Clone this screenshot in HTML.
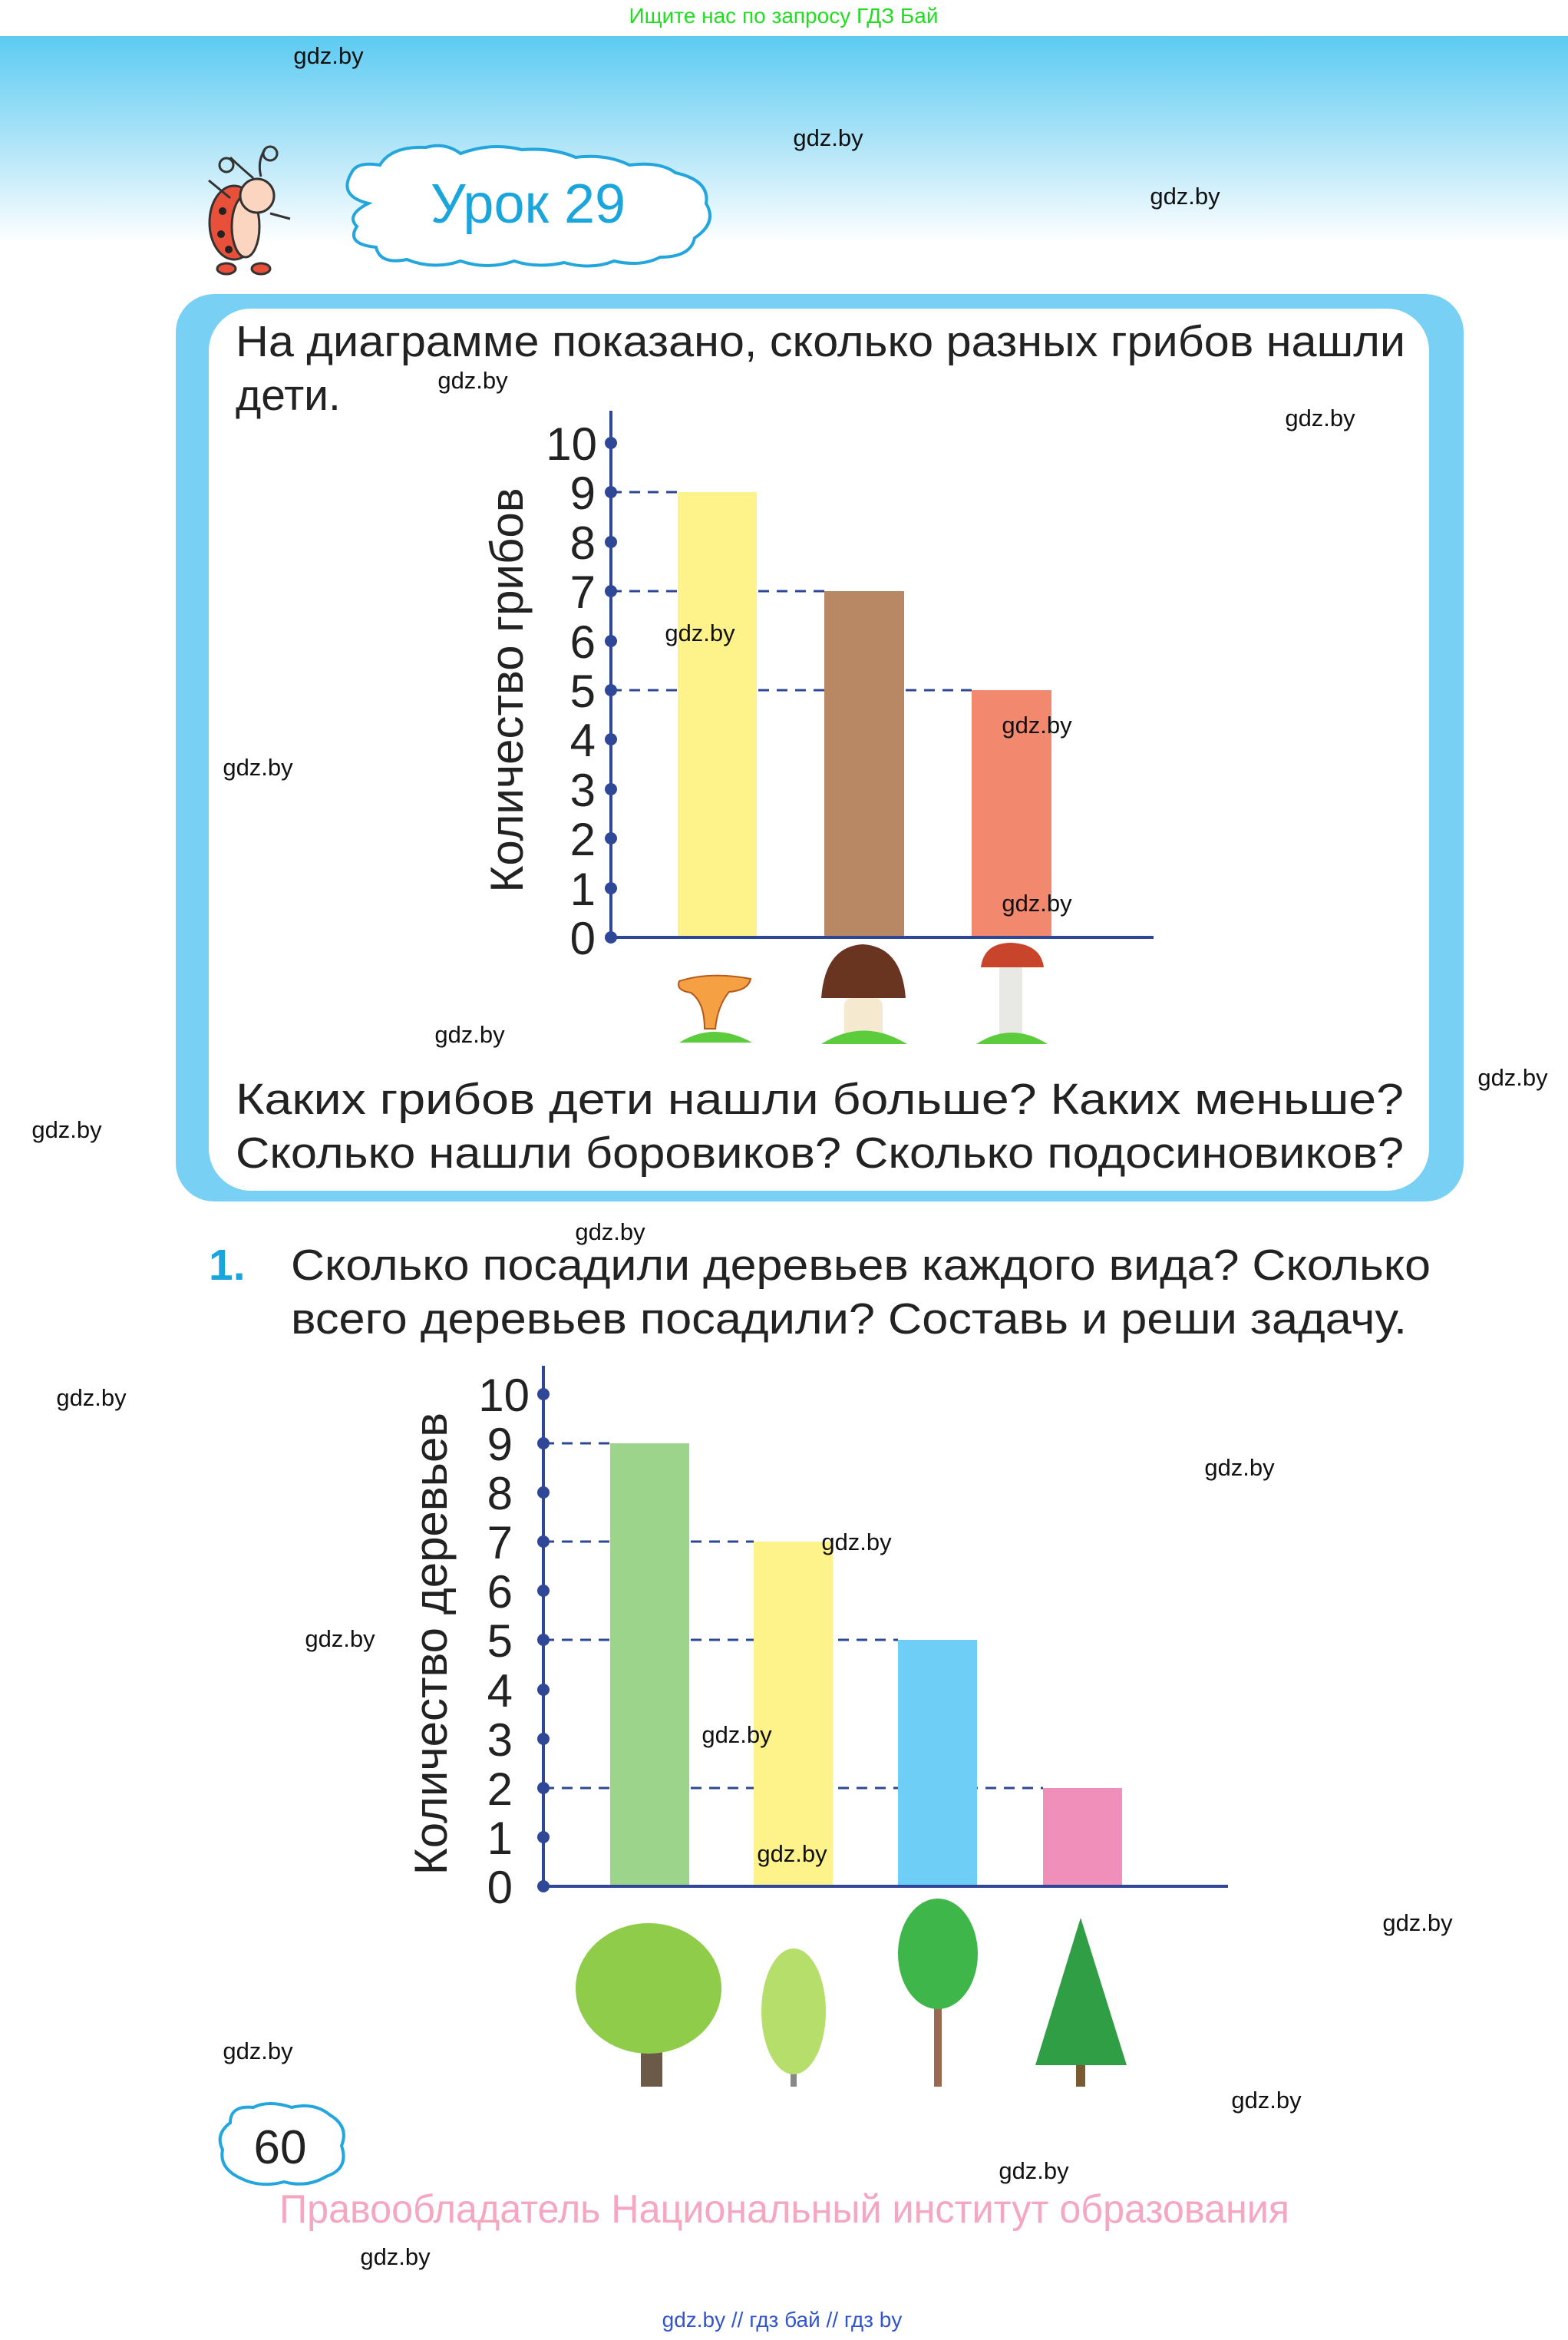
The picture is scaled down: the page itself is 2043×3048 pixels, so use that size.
<!DOCTYPE html>
<html><head><meta charset="utf-8"><style>
html,body{margin:0;padding:0;background:#fff}
svg{display:block}
text{font-family:"Liberation Sans",sans-serif}
.w{font-size:31px;fill:#111;text-anchor:middle}
.t{font-size:57px;fill:#222}
</style></head><body>
<svg width="2043" height="3048" viewBox="0 0 2043 3048" xmlns="http://www.w3.org/2000/svg">
<defs>
<linearGradient id="sky" x1="0" y1="0" x2="0" y2="1">
<stop offset="0" stop-color="#5ccbf2"/><stop offset="0.55" stop-color="#b4e6f8"/><stop offset="1" stop-color="#ffffff"/>
</linearGradient>
</defs>
<rect x="0" y="47" width="2043" height="270" fill="url(#sky)"/>
<text x="1021" y="30" font-size="28" fill="#22dd22" text-anchor="middle">Ищите нас по запросу ГДЗ Бай</text>

<!-- ladybug -->
<g stroke="#333" stroke-width="3">
<path d="M340 230 Q335 210 345 195" fill="none"/><circle cx="352" cy="200" r="9" fill="none"/>
<path d="M330 232 Q310 215 300 205" fill="none"/><circle cx="295" cy="215" r="9" fill="none"/>
<ellipse cx="305" cy="290" rx="32" ry="48" fill="#e8503a"/>
<ellipse cx="320" cy="295" rx="18" ry="40" fill="#fcd5c0"/>
<circle cx="335" cy="255" r="22" fill="#fcd5c0"/>
<ellipse cx="295" cy="350" rx="12" ry="7" fill="#e8503a"/><ellipse cx="340" cy="350" rx="12" ry="7" fill="#e8503a"/>
<path d="M300 258 L272 235 M352 278 L378 285" fill="none"/>
</g>
<circle cx="290" cy="275" r="5" fill="#222"/><circle cx="288" cy="305" r="5" fill="#222"/><circle cx="298" cy="325" r="5" fill="#222"/>

<!-- cloud -->
<path d="M480 265 Q440 255 458 225 Q465 210 495 215 Q510 190 555 192 Q580 185 600 200 Q640 185 680 195 Q720 192 750 205 Q790 200 820 215 Q860 210 880 225 Q925 235 920 265 Q935 290 905 310 Q900 335 860 335 Q835 348 800 340 Q770 352 735 342 Q700 350 670 340 Q635 352 600 340 Q565 352 530 338 Q495 345 490 322 Q450 318 465 295 Q450 280 480 265Z" fill="#fff" stroke="#23a6dd" stroke-width="4"/>
<text x="688" y="290" font-size="72" fill="#1aa5dc" text-anchor="middle">Урок 29</text>

<!-- blue box -->
<rect x="229" y="383" width="1678" height="1182" rx="50" fill="#79d0f5"/>
<rect x="272" y="402" width="1590" height="1149" rx="55" fill="#fff"/>

<text class="t" x="307" y="464" textLength="1524" lengthAdjust="spacingAndGlyphs">На диаграмме показано, сколько разных грибов нашли</text>
<text class="t" x="307" y="534">дети.</text>

<!-- chart 1 -->
<g stroke="#2e4897" stroke-width="3" stroke-dasharray="14 10">
<line x1="796" y1="641" x2="883" y2="641"/>
<line x1="796" y1="770" x2="1074" y2="770"/>
<line x1="796" y1="899" x2="1266" y2="899"/>
</g>
<rect x="883" y="641" width="103" height="580" fill="#fef38a"/>
<rect x="1074" y="770" width="104" height="451" fill="#b88865"/>
<rect x="1266" y="899" width="104" height="322" fill="#f2886e"/>
<line x1="796" y1="535" x2="796" y2="1221" stroke="#2e4897" stroke-width="4"/>
<line x1="796" y1="1221" x2="1503" y2="1221" stroke="#2e4897" stroke-width="4"/>
<g fill="#2e4897">
<circle cx="796" cy="1221" r="8"/><circle cx="796" cy="1157" r="8"/><circle cx="796" cy="1092" r="8"/><circle cx="796" cy="1028" r="8"/><circle cx="796" cy="963" r="8"/><circle cx="796" cy="899" r="8"/><circle cx="796" cy="835" r="8"/><circle cx="796" cy="770" r="8"/><circle cx="796" cy="706" r="8"/><circle cx="796" cy="641" r="8"/><circle cx="796" cy="577" r="8"/>
</g>
<g font-size="60" fill="#222" text-anchor="end">
<text x="776" y="1243">0</text><text x="776" y="1179">1</text><text x="776" y="1114">2</text><text x="776" y="1050">3</text><text x="776" y="985">4</text><text x="776" y="921">5</text><text x="776" y="857">6</text><text x="776" y="792">7</text><text x="776" y="728">8</text><text x="776" y="663">9</text><text x="778" y="599">10</text>
</g>
<text transform="translate(681 899) rotate(-90)" font-size="60" fill="#222" text-anchor="middle">Количество грибов</text>
<!-- mushrooms -->
<path d="M885 1278 Q925 1265 978 1275 Q975 1290 950 1292 Q935 1310 932 1340 L918 1340 Q918 1305 900 1293 Q880 1290 885 1278Z" fill="#f4a043" stroke="#b55a1a" stroke-width="2"/>
<path d="M885 1358 Q930 1330 980 1358Z" fill="#5ccb3c"/>
<path d="M1070 1300 Q1075 1233 1124 1230 Q1175 1233 1180 1300Z" fill="#6a3520"/>
<rect x="1100" y="1300" width="50" height="55" rx="10" fill="#f5ead0"/>
<path d="M1070 1360 Q1125 1325 1182 1360Z" fill="#5ccb3c"/>
<path d="M1278 1260 Q1282 1228 1318 1228 Q1356 1230 1360 1260Z" fill="#c8442a"/>
<rect x="1302" y="1260" width="30" height="95" fill="#e8e8e4"/>
<path d="M1272 1360 Q1318 1330 1365 1360Z" fill="#5ccb3c"/>

<text class="t" x="307" y="1451" textLength="1522" lengthAdjust="spacingAndGlyphs">Каких грибов дети нашли больше? Каких меньше?</text>
<text class="t" x="307" y="1521" textLength="1522" lengthAdjust="spacingAndGlyphs">Сколько нашли боровиков? Сколько подосиновиков?</text>

<text x="272" y="1667" font-size="57" font-weight="bold" fill="#1aa5dc">1.</text>
<text class="t" x="379" y="1667" textLength="1485" lengthAdjust="spacingAndGlyphs">Сколько посадили деревьев каждого вида? Сколько</text>
<text class="t" x="379" y="1737" textLength="1454" lengthAdjust="spacingAndGlyphs">всего деревьев посадили? Составь и реши задачу.</text>

<!-- chart 2 -->
<g stroke="#2e4897" stroke-width="3" stroke-dasharray="14 10">
<line x1="708" y1="1880" x2="795" y2="1880"/>
<line x1="708" y1="2008" x2="982" y2="2008"/>
<line x1="708" y1="2136" x2="1170" y2="2136"/>
<line x1="708" y1="2329" x2="1359" y2="2329"/>
</g>
<rect x="795" y="1880" width="103" height="577" fill="#9dd48b"/>
<rect x="982" y="2008" width="103" height="449" fill="#fef38a"/>
<rect x="1170" y="2136" width="103" height="321" fill="#6fcef5"/>
<rect x="1359" y="2329" width="103" height="128" fill="#f08fba"/>
<line x1="708" y1="1779" x2="708" y2="2457" stroke="#2e4897" stroke-width="4"/>
<line x1="708" y1="2457" x2="1600" y2="2457" stroke="#2e4897" stroke-width="4"/>
<g fill="#2e4897">
<circle cx="708" cy="2457" r="8"/><circle cx="708" cy="2393" r="8"/><circle cx="708" cy="2329" r="8"/><circle cx="708" cy="2265" r="8"/><circle cx="708" cy="2201" r="8"/><circle cx="708" cy="2136" r="8"/><circle cx="708" cy="2072" r="8"/><circle cx="708" cy="2008" r="8"/><circle cx="708" cy="1944" r="8"/><circle cx="708" cy="1880" r="8"/><circle cx="708" cy="1816" r="8"/>
</g>
<g font-size="60" fill="#222" text-anchor="end">
<text x="668" y="2479">0</text><text x="668" y="2415">1</text><text x="668" y="2351">2</text><text x="668" y="2287">3</text><text x="668" y="2223">4</text><text x="668" y="2158">5</text><text x="668" y="2094">6</text><text x="668" y="2030">7</text><text x="668" y="1966">8</text><text x="668" y="1902">9</text><text x="690" y="1838">10</text>
</g>
<text transform="translate(582 2141) rotate(-90)" font-size="60" fill="#222" text-anchor="middle">Количество деревьев</text>
<!-- trees -->
<rect x="835" y="2620" width="28" height="98" fill="#6b5a48"/>
<ellipse cx="845" cy="2590" rx="95" ry="85" fill="#8fcc4a"/>
<rect x="1030" y="2620" width="8" height="98" fill="#888"/>
<ellipse cx="1034" cy="2620" rx="42" ry="82" fill="#b5de6a"/>
<rect x="1217" y="2540" width="10" height="178" fill="#9a6a50"/>
<ellipse cx="1222" cy="2545" rx="52" ry="72" fill="#3fb64a"/>
<rect x="1402" y="2680" width="12" height="38" fill="#7a5a30"/>
<polygon points="1408,2498 1468,2690 1349,2690" fill="#2f9e45"/>

<!-- page number -->
<path d="M300 2765 Q300 2742 330 2745 Q350 2735 380 2745 Q410 2738 430 2755 Q455 2770 445 2795 Q455 2825 425 2835 Q400 2850 370 2842 Q340 2850 315 2838 Q285 2825 290 2800 Q280 2780 300 2765Z" fill="#fff" stroke="#23a6dd" stroke-width="4"/>
<text x="365" y="2818" font-size="62" fill="#222" text-anchor="middle">60</text>

<text x="1022" y="2895" font-size="52" fill="#f4a7bf" text-anchor="middle" textLength="1316" lengthAdjust="spacingAndGlyphs">Правообладатель Национальный институт образования</text>
<text x="1019" y="3031" font-size="28" fill="#3355cc" text-anchor="middle">gdz.by  //  гдз бай  //  гдз by</text>

<!-- watermarks -->
<g class="w">
<text class="w" x="428" y="83">gdz.by</text>
<text class="w" x="1079" y="190">gdz.by</text>
<text class="w" x="1544" y="266">gdz.by</text>
<text class="w" x="616" y="506">gdz.by</text>
<text class="w" x="1720" y="555">gdz.by</text>
<text class="w" x="912" y="835">gdz.by</text>
<text class="w" x="1351" y="955">gdz.by</text>
<text class="w" x="336" y="1010">gdz.by</text>
<text class="w" x="1351" y="1187">gdz.by</text>
<text class="w" x="612" y="1358">gdz.by</text>
<text class="w" x="1971" y="1414">gdz.by</text>
<text class="w" x="87" y="1482">gdz.by</text>
<text class="w" x="795" y="1615">gdz.by</text>
<text class="w" x="119" y="1831">gdz.by</text>
<text class="w" x="1615" y="1922">gdz.by</text>
<text class="w" x="1116" y="2019">gdz.by</text>
<text class="w" x="443" y="2145">gdz.by</text>
<text class="w" x="960" y="2270">gdz.by</text>
<text class="w" x="1032" y="2425">gdz.by</text>
<text class="w" x="1847" y="2515">gdz.by</text>
<text class="w" x="336" y="2682">gdz.by</text>
<text class="w" x="1650" y="2746">gdz.by</text>
<text class="w" x="1347" y="2838">gdz.by</text>
<text class="w" x="515" y="2950">gdz.by</text>
</g>
</svg>
</body></html>
